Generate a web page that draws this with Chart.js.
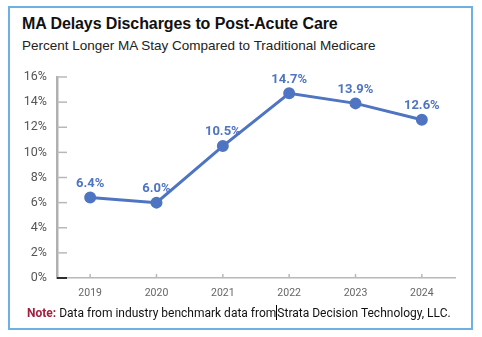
<!DOCTYPE html>
<html>
<head>
<meta charset="utf-8">
<script src="https://cdn.jsdelivr.net/npm/chart.js@4"></script>
<style>
  body { margin: 0; width: 482px; height: 337px; background: #fff; position: relative; overflow: hidden; font-family: Roboto, "Liberation Sans", sans-serif; }
  .frame { position: absolute; left: 8px; top: 6px; width: 461px; height: 320px; border: 2px solid #6eb0e2; }
  .title { position: absolute; left: 22px; top: 15px; font-family: "Liberation Sans", Arial, sans-serif; font-weight: bold; font-size: 16px; color: #111; letter-spacing: -0.1px; }
  .subtitle { position: absolute; left: 22px; top: 38px; font-family: "Liberation Sans", Arial, sans-serif; font-size: 13.5px; color: #222; }
  .note { position: absolute; left: 27px; top: 305px; font-size: 12px; color: #111; }
  .note b { color: #a3203f; font-weight: bold; }
  .caret { display: inline-block; width: 1px; height: 15px; background: #000; vertical-align: -3px; }
  #wrap { position: absolute; left: 0; top: 0; width: 482px; height: 337px; }
</style>
</head>
<body>
<div class="frame"></div>
<div class="title">MA Delays Discharges to Post-Acute Care</div>
<div class="subtitle">Percent Longer MA Stay Compared to Traditional Medicare</div>
<div id="wrap"><canvas id="chart"></canvas></div>
<div class="note"><b>Note:</b> Data from industry benchmark data from<span class="caret"></span>Strata Decision Technology, LLC.</div>
<script>
const years = ["2019", "2020", "2021", "2022", "2023", "2024"];
const pctLonger = [6.4, 6.0, 10.5, 14.7, 13.9, 12.6];
const yTicks = [0, 2, 4, 6, 8, 10, 12, 14, 16];

const blue = "#4e74c2";

const innerTicks = {
  id: "innerTicks",
  afterDatasetsDraw(chart) {
    const ctx = chart.ctx;
    const x = chart.scales.x;
    const y = chart.scales.y;
    ctx.save();
    ctx.strokeStyle = "#b8b8b8";
    ctx.lineWidth = 1.5;
    yTicks.forEach((v) => {
      const py = y.getPixelForValue(v);
      ctx.beginPath();
      ctx.moveTo(x.left, py);
      ctx.lineTo(x.left + 10, py);
      ctx.stroke();
    });
    years.forEach((lab, i) => {
      const px = x.getPixelForValue(i);
      ctx.beginPath();
      ctx.moveTo(px, y.bottom);
      ctx.lineTo(px, y.bottom - 4);
      ctx.stroke();
    });
    ctx.strokeStyle = "#000";
    ctx.beginPath();
    ctx.moveTo(x.left, y.bottom);
    ctx.lineTo(x.left + 10, y.bottom);
    ctx.stroke();
    ctx.restore();
  }
};

const valueLabels = {
  id: "valueLabels",
  afterDatasetsDraw(chart) {
    const ctx = chart.ctx;
    const meta = chart.getDatasetMeta(0);
    ctx.save();
    ctx.fillStyle = blue;
    ctx.font = "bold 13px Roboto, sans-serif";
    ctx.textAlign = "center";
    ctx.textBaseline = "middle";
    meta.data.forEach((pt, i) => {
      ctx.fillText(pctLonger[i].toFixed(1) + "%", pt.x, pt.y - 14);
    });
    ctx.restore();
  }
};

new Chart(document.getElementById("chart"), {
  type: "line",
  data: {
    labels: years,
    datasets: [
      {
        data: pctLonger,
        borderColor: blue,
        backgroundColor: blue,
        borderWidth: 3,
        pointRadius: 4.5,
        pointHoverRadius: 4.5,
        tension: 0
      }
    ]
  },
  options: {
    responsive: true,
    maintainAspectRatio: false,
    animation: false,
    layout: { padding: { left: 0, top: 77, right: 27, bottom: 35 } },
    plugins: {
      legend: { display: false },
      tooltip: { enabled: false }
    },
    scales: {
      x: {
        offset: true,
        afterFit: (s) => { s.height = 24; },
        grid: { display: false, drawTicks: false },
        border: { display: true, color: "#b8b8b8", width: 1.5 },
        ticks: { padding: 9, color: "#666", font: { family: "Roboto", size: 10.5 } }
      },
      y: {
        min: 0,
        max: 16,
        afterFit: (s) => { s.width = 57; },
        afterBuildTicks: (s) => { s.ticks = yTicks.map((v) => ({ value: v })); },
        grid: { display: false, drawTicks: false },
        border: { display: true, color: "#b0b0b0", width: 2.5 },
        ticks: {
          padding: 10,
          color: "#555",
          font: { family: "Roboto", size: 12.5 },
          callback: (v) => v + "%"
        }
      }
    }
  },
  plugins: [innerTicks, valueLabels]
});
</script>
</body>
</html>
